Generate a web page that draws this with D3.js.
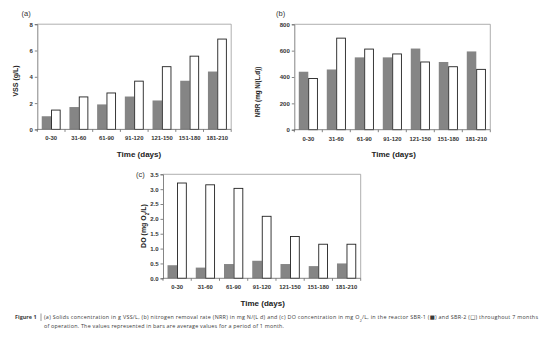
<!DOCTYPE html>
<html>
<head>
<meta charset="utf-8">
<script src="https://cdn.jsdelivr.net/npm/d3@7"></script>
<style>
  body { margin: 0; background: #fff; }
  svg { display: block; }
</style>
</head>
<body>
<div id="chart-area"></div>
<script>
var W = 554, H = 349

// data
var periods = ["0-30", "31-60", "61-90", "91-120", "121-150", "151-180", "181-210"]
var vssSBR1 = [1.0, 1.7, 1.9, 2.5, 2.2, 3.7, 4.4]
var vssSBR2 = [1.5, 2.5, 2.8, 3.7, 4.8, 5.6, 6.9]
var nrrSBR1 = [440, 457, 549, 549, 616, 514, 594]
var nrrSBR2 = [392, 698, 615, 578, 517, 481, 461]
var doSBR1 = [0.44, 0.36, 0.48, 0.59, 0.48, 0.41, 0.50]
var doSBR2 = [3.22, 3.16, 3.04, 2.10, 1.42, 1.16, 1.16]
var vssTicks = [0, 2, 4, 6, 8]
var nrrTicks = [0, 200, 400, 600, 800]
var doTicks = [0, 0.5, 1.0, 1.5, 2.0, 2.5, 3.0, 3.5]
var series = ["SBR-1", "SBR-2"]

var font = "'Liberation Sans', Arial, sans-serif"
var grey = "#858585"

var svg = d3.select("#chart-area").append("svg")
    .attr("width", W)
    .attr("height", H)

function drawPanel(p) {
    var g = svg.append("g")

    var x0 = d3.scaleBand()
        .domain(periods)
        .range([p.left, p.right])
    var x1 = d3.scaleBand()
        .domain(series)
        .range([x0.bandwidth() * 0.16, x0.bandwidth() * 0.84])
    var y = d3.scaleLinear()
        .domain([0, p.ticks[p.ticks.length - 1]])
        .range([p.bottom, p.top])

    // plot frame (top/right)
    g.append("path")
        .attr("d", "M" + p.left + "," + p.top + "H" + p.right + "V" + p.bottom)
        .attr("fill", "none")
        .attr("stroke", "#9a9a9a")
        .attr("stroke-width", 0.8)

    var rows = periods.map(function(d, i) {
        return { period: d, vals: [p.s1[i], p.s2[i]] }
    })

    var groups = g.selectAll(".grp").data(rows).enter()
        .append("g")
        .attr("transform", function(d) { return "translate(" + x0(d.period) + ",0)" })

    groups.selectAll("rect").data(function(d) {
        return series.map(function(s, k) { return { s: s, v: d.vals[k] } })
    }).enter().append("rect")
        .attr("x", function(d) { return x1(d.s) + (d.s == "SBR-2" ? 0.4 : 0) })
        .attr("width", function(d) { return x1.bandwidth() - (d.s == "SBR-2" ? 0.8 : 0) })
        .attr("y", function(d) { return y(d.v) + (d.s == "SBR-2" ? 0.4 : 0) })
        .attr("height", function(d) { return p.bottom - y(d.v) - (d.s == "SBR-2" ? 0.4 : 0) })
        .attr("fill", function(d) { return d.s == "SBR-1" ? grey : "#fff" })
        .attr("stroke", function(d) { return d.s == "SBR-1" ? "none" : "#222" })
        .attr("stroke-width", 0.9)

    // y axis
    var yAxis = g.append("g")
        .attr("transform", "translate(" + p.left + ",0)")
        .call(d3.axisLeft(y).tickValues(p.ticks).tickSize(2.5).tickPadding(2)
            .tickFormat(p.fmt))
    yAxis.select(".domain").attr("stroke", "#666").attr("stroke-width", 0.8)
    yAxis.selectAll("line").attr("stroke", "#666").attr("stroke-width", 0.8)
    yAxis.selectAll("text")
        .style("font-family", font)
        .style("font-weight", "bold")
        .style("font-size", "6px")
        .attr("fill", "#333")

    // x axis, Excel style ticks between categories
    var xAxis = g.append("g")
        .attr("transform", "translate(0," + p.bottom + ")")
    xAxis.append("line")
        .attr("x1", p.left).attr("x2", p.right)
        .attr("stroke", "#666").attr("stroke-width", 0.8)
    xAxis.selectAll(".tk").data(periods.concat(["end"])).enter()
        .append("line")
        .attr("x1", function(d, i) { return p.left + i * x0.step() })
        .attr("x2", function(d, i) { return p.left + i * x0.step() })
        .attr("y1", 0).attr("y2", 2.5)
        .attr("stroke", "#666").attr("stroke-width", 0.8)
    xAxis.selectAll(".lbl").data(periods).enter()
        .append("text")
        .attr("x", function(d) { return x0(d) + x0.bandwidth() / 2 })
        .attr("y", 11)
        .attr("text-anchor", "middle")
        .style("font-family", font)
        .style("font-weight", "bold")
        .style("font-size", "5.9px")
        .attr("fill", "#333")
        .text(function(d) { return d })

    // x title
    g.append("text")
        .attr("x", p.xTitleX)
        .attr("y", p.bottom + 27.5)
        .attr("text-anchor", "middle")
        .style("font-family", font)
        .style("font-weight", "bold")
        .style("font-size", "8px")
        .attr("fill", "#222")
        .text("Time (days)")

    // y title
    var yt = g.append("text")
        .attr("transform", "translate(" + p.yTitleX + "," + p.yTitleY + ") rotate(-90)")
        .attr("text-anchor", "middle")
        .style("font-family", font)
        .style("font-weight", "bold")
        .style("font-size", p.yTitleSize + "px")
        .attr("fill", "#222")
    p.yTitle.forEach(function(part) {
        var t = yt.append("tspan").text(part[0])
        if (part[1]) t.attr("baseline-shift", "sub").style("font-size", (p.yTitleSize * 0.65) + "px")
    })

    // panel letter
    g.append("text")
        .attr("x", p.letterX)
        .attr("y", p.letterY)
        .style("font-family", font)
        .style("font-size", "7.5px")
        .attr("fill", "#333")
        .text(p.letter)
}

drawPanel({
    left: 37.3, right: 231.2, top: 24.2, bottom: 129.4,
    s1: vssSBR1, s2: vssSBR2, ticks: vssTicks,
    fmt: d3.format("d"),
    yTitle: [["VSS (g/L)"]], yTitleX: 18, yTitleY: 81, yTitleSize: 7,
    xTitleX: 139, letter: "(a)", letterX: 21.5, letterY: 15.5
})

drawPanel({
    left: 294.3, right: 490.3, top: 24.3, bottom: 129.7,
    s1: nrrSBR1, s2: nrrSBR2, ticks: nrrTicks,
    fmt: d3.format("d"),
    yTitle: [["NRR (mg N/(L.d))"]], yTitleX: 260, yTitleY: 92, yTitleSize: 6.3,
    xTitleX: 393.7, letter: "(b)", letterX: 276, letterY: 15.5
})

drawPanel({
    left: 163, right: 360.7, top: 174.3, bottom: 278.3,
    s1: doSBR1, s2: doSBR2, ticks: doTicks,
    fmt: d3.format(".1f"),
    yTitle: [["DO (mg O"], ["2", true], ["/L)"]], yTitleX: 145.5, yTitleY: 226, yTitleSize: 7,
    xTitleX: 262.7, letter: "(c)", letterX: 136, letterY: 176.5
})

// caption
var cap = svg.append("g")
    .style("font-family", "'Open Sans', 'DejaVu Sans', sans-serif")
    .style("font-size", "5.4px")
    .attr("fill", "#3a3a3a")

cap.append("text")
    .attr("x", 15).attr("y", 319)
    .style("font-weight", "bold")
    .attr("textLength", 21.5)
    .text("Figure 1")
cap.append("line")
    .attr("x1", 41).attr("x2", 41)
    .attr("y1", 313.5).attr("y2", 321)
    .attr("stroke", "#555").attr("stroke-width", 0.6)

var line1 = cap.append("text")
    .attr("x", 44).attr("y", 319)
    .attr("textLength", 494)
line1.append("tspan").text("(a) Solids concentration in g VSS/L, (b) nitrogen removal rate (NRR) in mg N/(L d) and (c) DO concentration in mg O")
line1.append("tspan").attr("baseline-shift", "sub").style("font-size", "3.6px").text("2")
line1.append("tspan").text("/L, in the reactor SBR-1 (\u25A0) and SBR-2 (\u25A1) throughout 7 months")

cap.append("text")
    .attr("x", 44).attr("y", 328)
    .attr("textLength", 240)
    .text("of operation. The values represented in bars are average values for a period of 1 month.")
</script>
</body>
</html>
